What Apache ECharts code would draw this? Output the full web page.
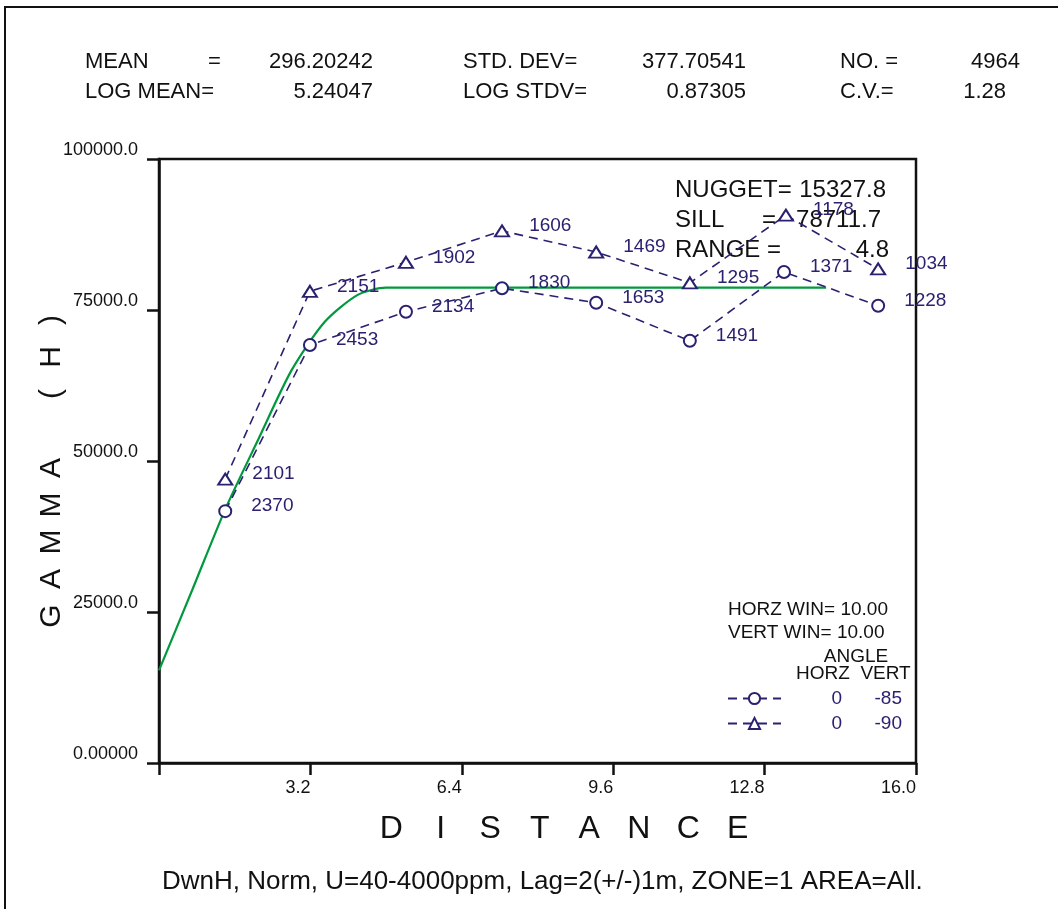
<!DOCTYPE html>
<html>
<head>
<meta charset="utf-8">
<script src="https://cdn.jsdelivr.net/npm/echarts@6/dist/echarts.min.js"></script>
<style>
html,body{margin:0;padding:0;background:#fff;}
#chart{width:1058px;height:909px;}
</style>
</head>
<body>
<div id="chart"></div>
<script>
// ---- data ----
const xTicks = [0, 3.2, 6.4, 9.6, 12.8, 16.0];
const yTicks = [0, 25000, 50000, 75000, 100000];

// experimental variogram, angle 0 / -85 (circles)
const lagsCircle  = [1.40, 3.19, 5.22, 7.25, 9.24, 11.22, 13.21, 15.20];
const gammaCircle = [41700, 69200, 74700, 78600, 76200, 69900, 81300, 75700];
const pairsCircle = [2370, 2453, 2134, 1830, 1653, 1491, 1371, 1228];

// experimental variogram, angle 0 / -90 (triangles)
const lagsTri  = [1.40, 3.19, 5.22, 7.25, 9.24, 11.22, 13.25, 15.20];
const gammaTri = [47000, 78100, 82900, 88100, 84600, 79500, 90700, 81800];
const pairsTri = [2101, 2151, 1902, 1606, 1469, 1295, 1178, 1034];

// fitted model curve (green)
const modelDist  = [0, 0.7, 1.4, 2.1, 2.8, 3.5, 4.2, 4.8, 14.1];
const modelGamma = [15330, 28600, 42000, 53600, 65000, 73000, 77500, 78700, 78700];

const NAVY = '#2a2270';
const GREEN = '#00993d';
const FONT = '"Liberation Sans", Arial, sans-serif';

function zip(a, b) { return a.map((v, i) => [v, b[i]]); }
function txt(x, y, text, size, align, color) {
  return { type: 'text', x: x, y: y, silent: true,
    style: { text: text, fontSize: size, fontFamily: FONT, fill: color || '#111',
             align: align || 'left', verticalAlign: 'middle' } };
}

const chart = echarts.init(document.getElementById('chart'), null, { renderer: 'canvas' });

const dashStyle = { color: NAVY, width: 1.6, type: [9, 6] };
const labelFor = (pairs) => ({
  show: true, position: 'right', distance: 19, offset: [0, -5],
  fontSize: 19, fontFamily: FONT, color: NAVY,
  formatter: (p) => String(pairs[p.dataIndex])
});

const letters = (s, tok) => s.split('').map(c => '{' + tok + '|' + c + '}').join('');

chart.setOption({
  animation: false,
  backgroundColor: '#fff',
  grid: { left: 159, right: 142, top: 159, bottom: 146, show: true,
          borderColor: '#111', borderWidth: 2.5, backgroundColor: 'transparent' },
  xAxis: {
    type: 'value', min: 0, max: 16, interval: 3.2,
    axisLine: { show: true, lineStyle: { color: '#111', width: 2.5 } },
    axisTick: { show: true, length: 12, lineStyle: { color: '#111', width: 2.5 } },
    splitLine: { show: false },
    axisLabel: { margin: 16, fontSize: 18, fontFamily: FONT, color: '#111', align: 'right',
      formatter: (v) => (Math.abs(v) < 1e-9 ? '' : v.toFixed(1)) },
    name: letters('DISTANCE', 'l'),
    nameLocation: 'middle', nameGap: 50, nameMoveOverlap: false,
    nameTextStyle: { padding: [0, 0, 0, 54],
      rich: { l: { width: 49.5, align: 'center', fontSize: 32, lineHeight: 32, fontFamily: FONT, color: '#111' } } }
  },
  yAxis: {
    type: 'value', min: 0, max: 100000, interval: 25000,
    axisLine: { show: true, lineStyle: { color: '#111', width: 2.5 } },
    axisTick: { show: true, length: 12, lineStyle: { color: '#111', width: 2.5 } },
    splitLine: { show: false },
    axisLabel: { margin: 21, fontSize: 18, fontFamily: FONT, color: '#111', verticalAlign: 'bottom',
      formatter: (v) => (v === 0 ? '0.00000' : v.toFixed(1)) },
    name: letters('GAMMA (H)', 'g'),
    nameLocation: 'middle', nameGap: 92, nameRotate: 90, nameMoveOverlap: false,
    nameTextStyle: { padding: [0, 14, 0, 0],
      rich: { g: { width: 37, align: 'center', fontSize: 30, lineHeight: 30, fontFamily: FONT, color: '#111' } } }
  },
  legend: {
    data: ['-85', '-90'],
    orient: 'vertical', left: 727, top: 689, padding: 0,
    itemWidth: 53, itemHeight: 14, itemGap: 6, itemTextGap: 5,
    formatter: (name) => '{a|0}{b|' + name + '}',
    textStyle: { color: NAVY, fontSize: 19, fontFamily: FONT, lineHeight: 16,
      rich: { a: { width: 56, align: 'right', fontSize: 19, color: NAVY, fontFamily: FONT, lineHeight: 16 },
              b: { width: 60, align: 'right', fontSize: 19, color: NAVY, fontFamily: FONT, lineHeight: 16 } } }
  },
  series: [
    {
      name: 'model', type: 'line', data: zip(modelDist, modelGamma),
      showSymbol: false, symbol: 'none', smooth: 0.25,
      lineStyle: { color: GREEN, width: 2.2 }, z: 2
    },
    {
      name: '-85', type: 'line', data: zip(lagsCircle, gammaCircle),
      symbol: 'emptyCircle', symbolSize: 12, showAllSymbol: true,
      itemStyle: { color: NAVY, borderColor: NAVY, borderWidth: 2 },
      lineStyle: dashStyle, label: labelFor(pairsCircle), z: 3
    },
    {
      name: '-90', type: 'line', data: zip(lagsTri, gammaTri),
      symbol: 'emptyTriangle', symbolSize: [14, 11], showAllSymbol: true,
      itemStyle: { color: NAVY, borderColor: NAVY, borderWidth: 2 },
      lineStyle: dashStyle, label: labelFor(pairsTri), z: 3
    }
  ],
  graphic: [
    { type: 'rect', shape: { x: 5, y: 7, width: 1200, height: 1000 }, silent: true,
      style: { fill: 'none', stroke: '#111', lineWidth: 2 }, z: -1 },
    // header statistics
    txt(85, 62, 'MEAN', 22), txt(208, 62, '=', 22), txt(373, 62, '296.20242', 22, 'right'),
    txt(463, 62, 'STD. DEV=', 22), txt(746, 62, '377.70541', 22, 'right'),
    txt(840, 62, 'NO. =', 22), txt(1020, 62, '4964', 22, 'right'),
    txt(85, 92, 'LOG MEAN=', 22), txt(373, 92, '5.24047', 22, 'right'),
    txt(463, 92, 'LOG STDV=', 22), txt(746, 92, '0.87305', 22, 'right'),
    txt(840, 92, 'C.V.=', 22), txt(1006, 92, '1.28', 22, 'right'),
    // model parameters
    txt(675, 190, 'NUGGET=', 24), txt(886, 190, '15327.8', 24, 'right'),
    txt(675, 220, 'SILL', 24), txt(762, 220, '=', 24), txt(881, 220, '78711.7', 24, 'right'),
    txt(675, 250, 'RANGE', 24), txt(767, 250, '=', 24), txt(889, 250, '4.8', 24, 'right'),
    // search window info
    txt(728, 610, 'HORZ WIN= 10.00', 19), txt(728, 633, 'VERT WIN= 10.00', 19),
    txt(856, 657, 'ANGLE', 19, 'center'), txt(796, 674, 'HORZ  VERT', 19),
    // caption
    txt(162, 882, 'DwnH, Norm, U=40-4000ppm, Lag=2(+/-)1m, ZONE=1 AREA=All.', 26)
  ]
});
</script>
</body>
</html>
